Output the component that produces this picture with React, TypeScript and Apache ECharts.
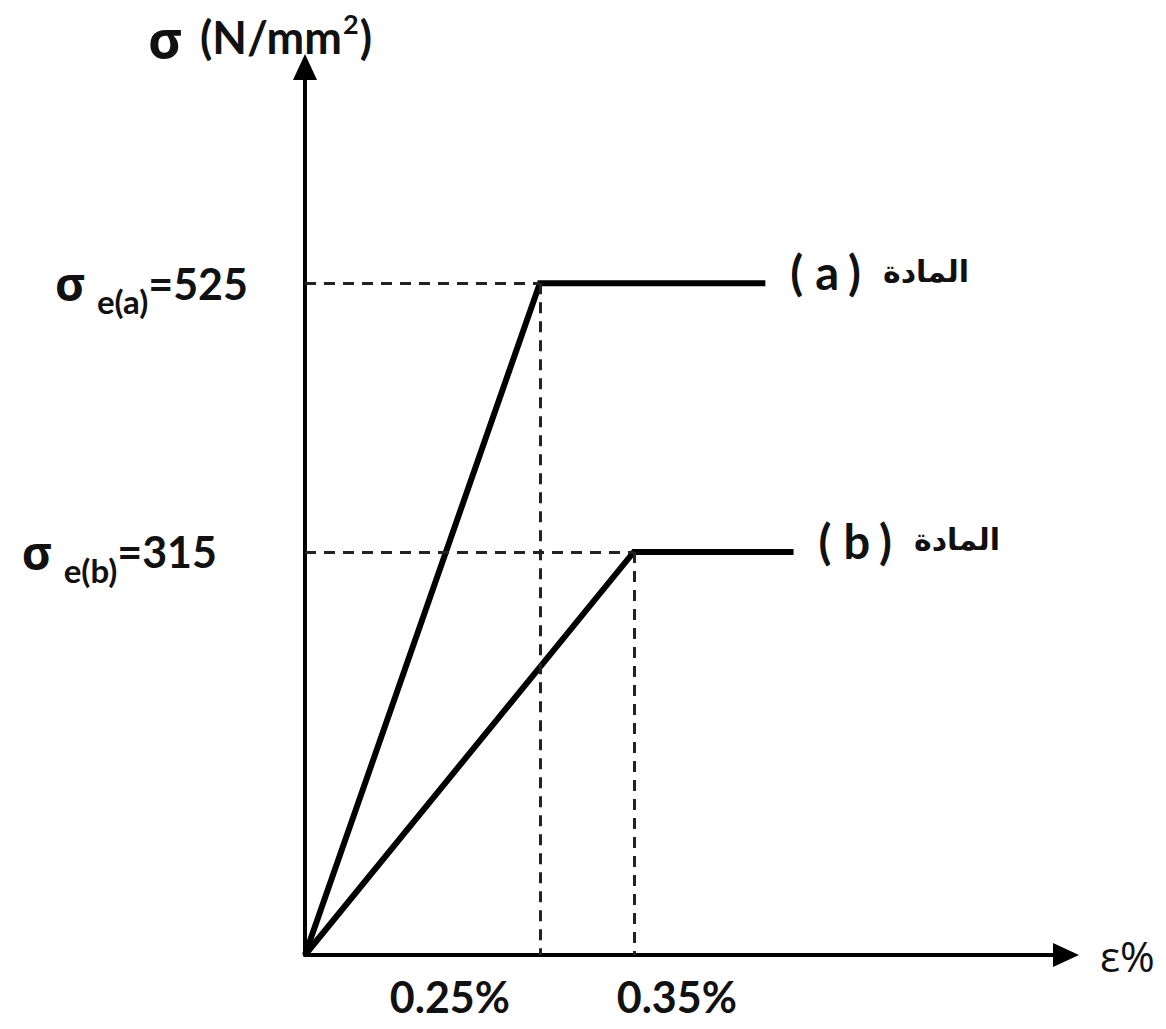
import React, { useEffect, useRef } from "react";
import * as echarts from "echarts";

// Material names and yield points (strain in %, stress in N/mm²)
const materials = ["a", "b"];
const yieldStrain = [0.25, 0.35];
const yieldStress = [525, 315];

// Stress–strain polylines (strain %, stress)
const strainA = [0, 0.25, 0.49];
const stressA = [0, 525, 525];
const strainB = [0, 0.35, 0.52];
const stressB = [0, 315, 315];

// Tick labels
const xTickLabels = ["0.25%", "0.35%"];
const yTickSubs = ["e(a)", "e(b)"];
const yTickValues = ["=525", "=315"];
const materialWord = "المادة";

const LATIN = "Lato, 'Open Sans', sans-serif";
const GREEK = "'Open Sans', 'DejaVu Sans', sans-serif";
const INK = "#111";

function endLabel(name: string) {
  return {
    show: true,
    distance: 25,
    offset: [0, -11],
    formatter: () => `{p|(}{l|${name}}{p|)}{ar|${materialWord}}`,
    rich: {
      p: { fontFamily: LATIN, fontSize: 47, fontWeight: "bold", color: INK, verticalAlign: "middle" },
      l: {
        fontFamily: LATIN,
        fontSize: 47,
        fontWeight: "bold",
        color: INK,
        padding: [0, 9, 0, 12],
        verticalAlign: "middle",
      },
      ar: {
        fontFamily: "'DejaVu Sans', sans-serif",
        fontSize: 30,
        fontWeight: "bold",
        color: INK,
        padding: [0, 0, 2, 22],
        verticalAlign: "middle",
      },
    },
  };
}

function dashed(ix: number) {
  const x = yieldStrain[ix];
  const y = yieldStress[ix];
  return {
    silent: true,
    symbol: "none",
    label: { show: false },
    lineStyle: { color: "#222", width: 3, type: [11, 8] },
    data: [
      [{ coord: [0, y] }, { coord: [x, y] }],
      [{ coord: [x, y] }, { coord: [x, 0] }],
    ],
  };
}

export default function App() {
  const ref = useRef<HTMLDivElement>(null);

  useEffect(() => {
    if (!ref.current) return;
    const chart = echarts.init(ref.current, null, { renderer: "svg" });
    const option: any = {
      animation: false,
      backgroundColor: "#ffffff",
      grid: {
        left: 305,
        top: 67,
        width: 761,
        height: 888,
        containLabel: false,
        outerBoundsMode: "none",
      },
      xAxis: {
        type: "value",
        min: 0,
        max: 0.81,
        axisLine: {
          show: true,
          onZero: false,
          symbol: ["none", "triangle"],
          symbolSize: [24, 26],
          lineStyle: { color: "#000", width: 4 },
        },
        axisTick: { show: false },
        splitLine: { show: false },
        axisLabel: {
          customValues: yieldStrain,
          margin: 20,
          formatter: (v: number) => {
            const i = yieldStrain.findIndex((s) => Math.abs(s - v) < 1e-9);
            return i === 0 ? `{l|${xTickLabels[0]}}` : `{r|${xTickLabels[i]}}`;
          },
          rich: {
            l: { fontFamily: LATIN, fontWeight: "bold", fontSize: 43, color: INK, padding: [0, 180, 0, 0] },
            r: { fontFamily: LATIN, fontWeight: "bold", fontSize: 43, color: INK, padding: [0, 0, 0, 86] },
          },
        },
        name: "{e|ε%}",
        nameLocation: "end",
        nameGap: 34,
        nameMoveOverlap: false,
        nameTextStyle: {
          align: "left",
          verticalAlign: "middle",
          rich: { e: { fontFamily: GREEK, fontSize: 42, color: INK } },
        },
      },
      yAxis: {
        type: "value",
        min: 0,
        max: 694,
        axisLine: {
          show: true,
          onZero: false,
          symbol: ["none", "triangle"],
          symbolSize: [24, 26],
          lineStyle: { color: "#000", width: 4 },
        },
        axisTick: { show: false },
        splitLine: { show: false },
        axisLabel: {
          customValues: yieldStress,
          margin: 57,
          formatter: (v: number) => {
            const i = yieldStress.indexOf(v);
            const valStyle = i === 0 ? "v" : "vb";
            return `{s|σ}{sub|${yTickSubs[i]}}{${valStyle}|${yTickValues[i]}}`;
          },
          rich: {
            s: { fontFamily: GREEK, fontWeight: "bold", fontSize: 46, color: INK, padding: [0, 12, 0, 0], verticalAlign: "middle" },
            sub: { fontFamily: LATIN, fontWeight: "bold", fontSize: 33, color: INK, padding: [36, 0, 0, 0], verticalAlign: "middle" },
            v: { fontFamily: LATIN, fontWeight: "bold", fontSize: 43, color: INK, verticalAlign: "middle" },
            vb: { fontFamily: LATIN, fontWeight: "bold", fontSize: 43, color: INK, padding: [0, 31, 0, 0], verticalAlign: "middle" },
          },
        },
        name: "{s|σ}{u|(N/mm}{sup|2}{u|)}",
        nameLocation: "end",
        nameGap: 30,
        nameMoveOverlap: false,
        nameTextStyle: {
          align: "center",
          verticalAlign: "middle",
          padding: [0, 90, 0, 0],
          rich: {
            s: { fontFamily: GREEK, fontWeight: "bold", fontSize: 52, color: INK, padding: [0, 18, 0, 0], verticalAlign: "middle" },
            u: { fontFamily: LATIN, fontWeight: "bold", fontSize: 45, color: INK, verticalAlign: "middle" },
            sup: { fontFamily: LATIN, fontWeight: "bold", fontSize: 27, color: INK, padding: [0, 1, 28, 1], verticalAlign: "middle" },
          },
        },
      },
      series: [
        {
          name: materials[0],
          type: "line",
          data: strainA.map((x, i) => [x, stressA[i]]),
          symbol: "none",
          lineStyle: { color: "#000", width: 6, join: "miter" },
          markLine: dashed(0),
          endLabel: endLabel(materials[0]),
          z: 3,
        },
        {
          name: materials[1],
          type: "line",
          data: strainB.map((x, i) => [x, stressB[i]]),
          symbol: "none",
          lineStyle: { color: "#000", width: 6, join: "miter" },
          markLine: dashed(1),
          endLabel: endLabel(materials[1]),
          z: 3,
        },
      ],
    };
    chart.setOption(option);
    return () => chart.dispose();
  }, []);

  return (
    <div
      ref={ref}
      style={{ position: "absolute", left: 0, top: 0, width: 1166, height: 1029, background: "#fff" }}
    />
  );
}
